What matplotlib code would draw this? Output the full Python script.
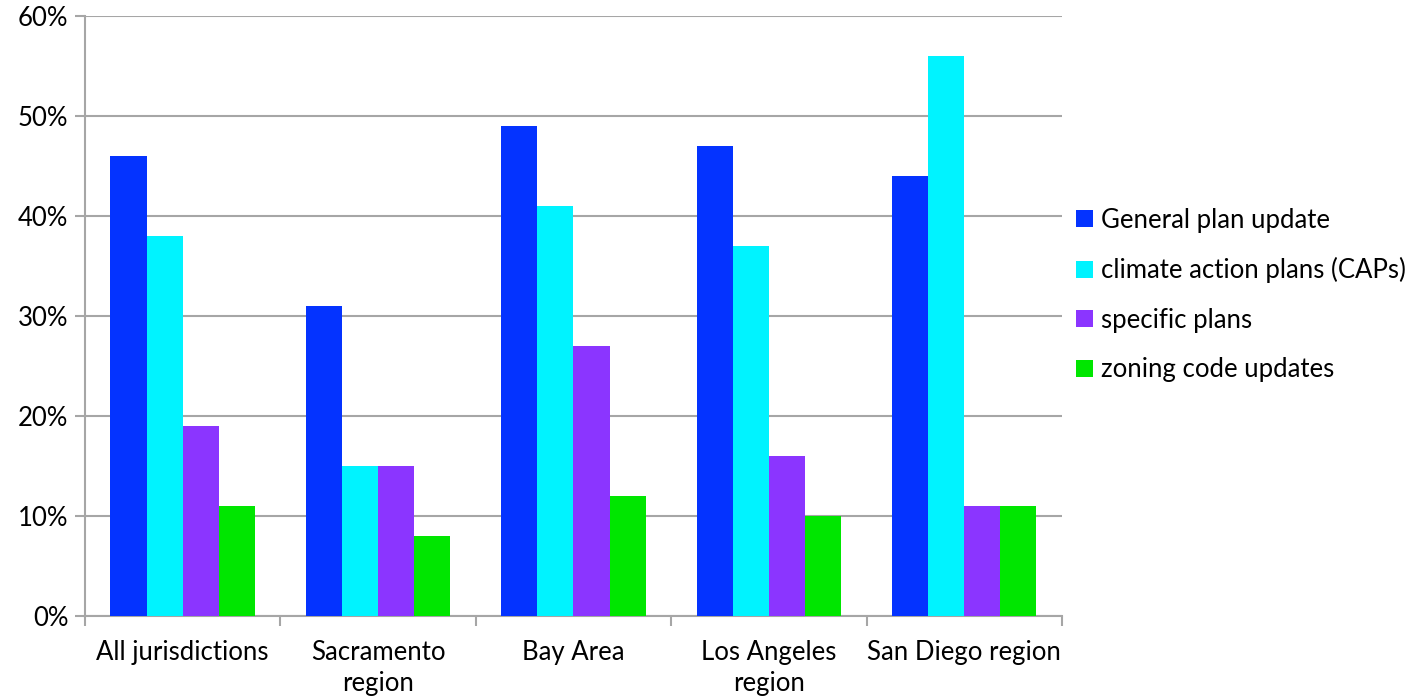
import numpy as np
import matplotlib.pyplot as plt
from matplotlib.ticker import FixedLocator, PercentFormatter

plt.rcParams['font.family'] = ['Lato', 'DejaVu Sans']

regions = ["All jurisdictions", "Sacramento\nregion", "Bay Area", "Los Angeles\nregion", "San Diego region"]
series = ["General plan update", "climate action plans (CAPs)", "specific plans", "zoning code updates"]
general_plan = [46, 31, 49, 47, 44]
climate_action = [38, 15, 41, 37, 56]
specific_plans = [19, 15, 27, 16, 11]
zoning_code = [11, 8, 12, 10, 11]
colors = ["#0433ff", "#00f3ff", "#8b35ff", "#00e600"]

values = [general_plan, climate_action, specific_plans, zoning_code]

fig = plt.figure(figsize=(14.24, 7.0), dpi=100)
ax = fig.add_axes([0.0597, 0.12, 0.686, 0.857])

x = np.arange(len(regions))
w = 0.185
for i, (vals, name, col) in enumerate(zip(values, series, colors)):
    ax.bar(x + (i - 1.5) * w, vals, width=w, color=col, label=name, zorder=3,
           edgecolor="none")

ax.set_xlim(-0.5, len(regions) - 0.5)
ax.set_ylim(0, 60)
ax.set_yticks(np.arange(0, 61, 10))
ax.yaxis.set_major_formatter(PercentFormatter(decimals=0))
ax.grid(axis="y", color="#a6a6a6", linewidth=1.5, zorder=0)

ax.set_xticks(x)
ax.set_xticklabels(regions, fontsize=18.5, linespacing=1.3)
ax.xaxis.set_minor_locator(FixedLocator(np.arange(-0.5, len(regions), 1)))
ax.tick_params(axis="x", which="major", length=0, pad=17)
ax.tick_params(axis="x", which="minor", length=7, width=1.5, color="#a6a6a6")
ax.tick_params(axis="y", length=7, width=1.5, color="#a6a6a6", labelsize=18.5, pad=5)

for side in ["top", "right"]:
    ax.spines[side].set_visible(False)
for side in ["left", "bottom"]:
    ax.spines[side].set_color("#a6a6a6")
    ax.spines[side].set_linewidth(1.5)

leg = ax.legend(loc="center left", bbox_to_anchor=(0.991, 0.535), frameon=False,
                fontsize=18.5, handlelength=0.65, handleheight=0.65,
                handletextpad=0.3, labelspacing=0.95)

fig.savefig("out.png", dpi=100)
